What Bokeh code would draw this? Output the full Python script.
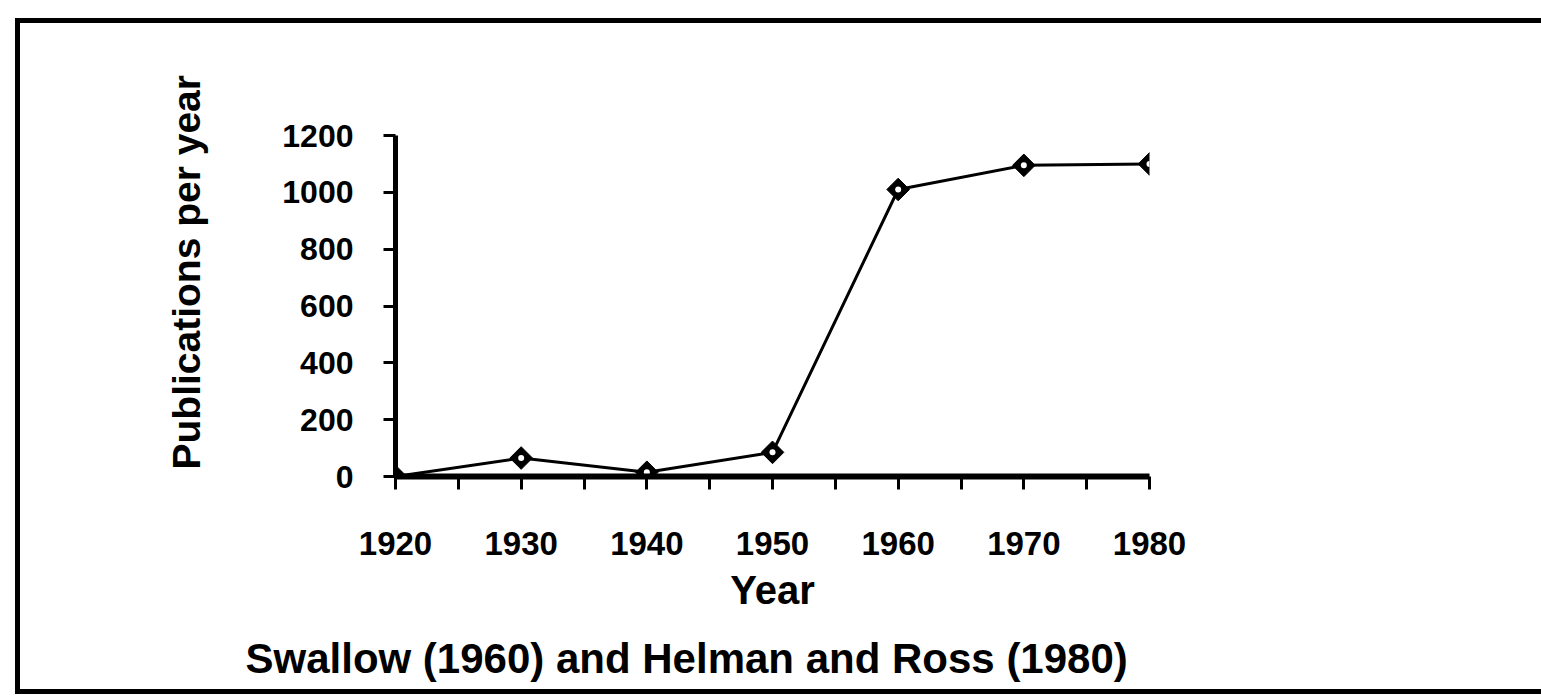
import math
from bokeh.plotting import figure
from bokeh.models import FixedTicker, Title, ColumnDataSource
from bokeh.embed import file_html
from bokeh.resources import INLINE

years = [1920, 1930, 1940, 1950, 1960, 1970, 1980]
publications = [0, 65, 15, 85, 1010, 1095, 1100]
x_ticks = [1920, 1930, 1940, 1950, 1960, 1970, 1980]
x_minor = [1925, 1935, 1945, 1955, 1965, 1975]
y_ticks = [0, 200, 400, 600, 800, 1000, 1200]
x_title = "Year"
y_title = "Publications per year"
caption = "Swallow (1960) and Helman and Ross (1980)"

FONT = "Liberation Sans"

# figure box placed at page (15, 18); frame wanted at page x 395..1149, y 135..477
p = figure(width=1526, height=676, x_range=(1920, 1980), y_range=(0, 1200),
           output_backend="svg", toolbar_location=None,
           min_border_left=375, min_border_right=1526 - 1129,
           min_border_top=112, min_border_bottom=676 - 454)
p.margin = (18, 0, 0, 15)
p.styles = {"border-left": "5px solid black", "border-top": "5px solid black",
            "border-bottom": "5px solid black"}
p.outline_line_color = None
p.xgrid.visible = False
p.ygrid.visible = False
p.background_fill_color = "white"
p.border_fill_color = "white"

src = ColumnDataSource(dict(x=years, y=publications))
p.line("x", "y", source=src, line_color="black", line_width=3)
p.scatter("x", "y", source=src, marker="square", angle=math.pi / 4, size=16,
          fill_color="black", line_color="black")
p.scatter("x", "y", source=src, marker="circle", size=6, fill_color="white", line_color=None)

xa = p.xaxis[0]
xa.ticker = FixedTicker(ticks=x_ticks, minor_ticks=x_minor)
xa.axis_line_width = 6
xa.axis_line_color = "black"
xa.major_tick_out = 13
xa.major_tick_in = 0
xa.minor_tick_out = 13
xa.minor_tick_in = 0
xa.major_tick_line_width = 3
xa.minor_tick_line_width = 3
xa.major_tick_line_color = "black"
xa.minor_tick_line_color = "black"
xa.major_label_text_font = FONT
xa.major_label_text_font_style = "bold"
xa.major_label_text_font_size = "33px"
xa.major_label_text_color = "black"
xa.major_label_standoff = 42
xa.axis_label = x_title
xa.axis_label_text_font = FONT
xa.axis_label_text_font_style = "bold"
xa.axis_label_text_font_size = "40px"
xa.axis_label_text_color = "black"
xa.axis_label_standoff = 10

ya = p.yaxis[0]
ya.ticker = FixedTicker(ticks=y_ticks, minor_ticks=[])
ya.axis_line_width = 5
ya.axis_line_color = "black"
ya.major_tick_out = 12
ya.major_tick_in = 0
ya.major_tick_line_width = 3
ya.major_tick_line_color = "black"
ya.major_label_text_font = FONT
ya.major_label_text_font_style = "bold"
ya.major_label_text_font_size = "32px"
ya.major_label_text_color = "black"
ya.major_label_standoff = 30

ytitle = Title(text=y_title, align="left", offset=7, standoff=144,
               text_font=FONT, text_font_style="bold", text_font_size="39px",
               text_color="black")
p.add_layout(ytitle, "left")

cap = Title(text=caption, align="left", offset=-150, standoff=36,
            text_font=FONT, text_font_style="bold", text_font_size="42px",
            text_color="black")
p.add_layout(cap, "below")

open("out.html", "w").write(file_html(p, INLINE))
